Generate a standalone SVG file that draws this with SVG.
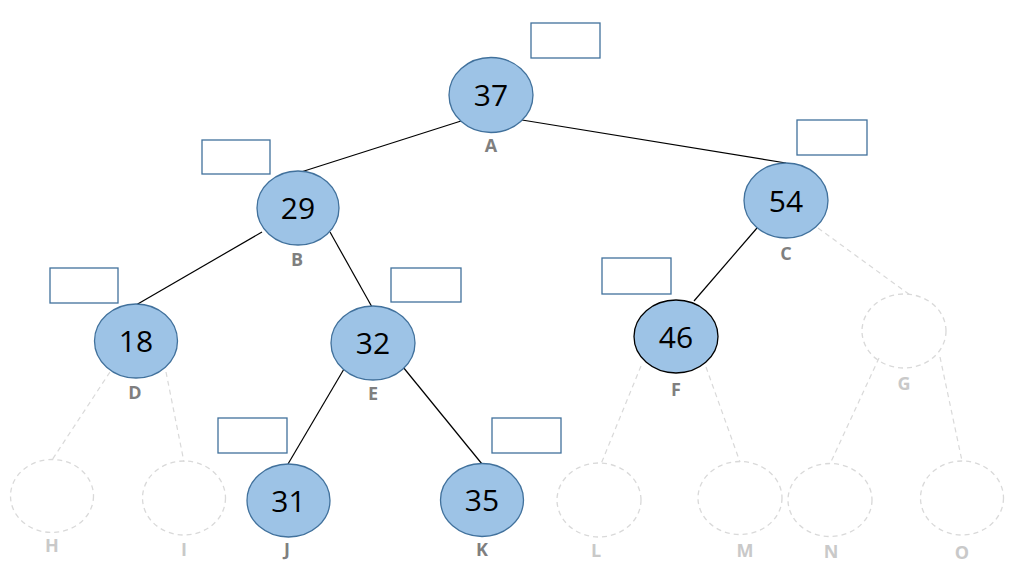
<svg xmlns="http://www.w3.org/2000/svg" width="1024" height="586" viewBox="0 0 1024 586">
<style>
.n{fill:#9DC3E6;stroke:#41719C;stroke-width:1.3}
.nb{fill:#9DC3E6;stroke:#000;stroke-width:1.3}
.g{fill:none;stroke:#d9d9d9;stroke-width:1.3;stroke-dasharray:5 4}
.v{font-family:"Open Sans","Liberation Sans",sans-serif;font-size:30px;fill:#000;text-anchor:middle}
.l{font-family:"Open Sans","Liberation Sans",sans-serif;font-size:18px;font-weight:bold;fill:#7f7f7f;text-anchor:middle}
.lf{font-family:"Open Sans","Liberation Sans",sans-serif;font-size:18px;font-weight:bold;fill:#c9c9c9;text-anchor:middle}
.b{fill:#fff;stroke:#41719C;stroke-width:1.3}
.e{stroke:#000;stroke-width:1.2;fill:none}
.ed{stroke:#d9d9d9;stroke-width:1.2;fill:none;stroke-dasharray:5 4}
</style>
<rect width="1024" height="586" fill="#fff"/>
<g id="connectors">
<line class="e" x1="461" y1="121" x2="301" y2="172"/>
<line class="e" x1="522" y1="120" x2="786" y2="163"/>
<line class="e" x1="262" y1="232" x2="136" y2="305"/>
<line class="e" x1="330" y1="232" x2="372" y2="307"/>
<line class="e" x1="344" y1="369" x2="288" y2="464"/>
<line class="e" x1="403" y1="367" x2="482" y2="464"/>
<line class="e" x1="757" y1="228" x2="694" y2="301"/>
<line class="ed" x1="818" y1="228" x2="910" y2="295"/>
<line class="ed" x1="110" y1="372" x2="52" y2="460"/>
<line class="ed" x1="166" y1="372" x2="184" y2="462"/>
<line class="ed" x1="641" y1="366" x2="601" y2="464"/>
<line class="ed" x1="706" y1="367" x2="740" y2="462"/>
<line class="ed" x1="879" y1="358" x2="830" y2="464"/>
<line class="ed" x1="940" y1="357" x2="962" y2="461"/>
</g>
<g id="A"><rect class="b" x="531" y="23" width="69" height="35"/><ellipse class="n" cx="491" cy="95" rx="42" ry="37.5"/><text class="v" x="491" y="106">37</text><text class="l" x="491" y="152">A</text></g>
<g id="B"><rect class="b" x="202" y="140" width="68" height="34"/><ellipse class="n" cx="298" cy="208" rx="41" ry="37"/><text class="v" x="298" y="219">29</text><text class="l" x="297" y="266">B</text></g>
<g id="C"><rect class="b" x="797" y="120" width="70" height="35"/><ellipse class="n" cx="786" cy="200.5" rx="42" ry="37.5"/><text class="v" x="786" y="212">54</text><text class="l" x="786" y="260">C</text></g>
<g id="D"><rect class="b" x="50" y="268" width="68" height="35"/><ellipse class="n" cx="136" cy="341" rx="41.5" ry="37"/><text class="v" x="136" y="352">18</text><text class="l" x="135" y="399">D</text></g>
<g id="E"><rect class="b" x="391" y="268" width="70" height="34"/><ellipse class="n" cx="373" cy="343" rx="42" ry="37"/><text class="v" x="373" y="354">32</text><text class="l" x="373" y="400">E</text></g>
<g id="F"><rect class="b" x="602" y="258" width="69" height="36"/><ellipse class="nb" cx="676" cy="336.5" rx="42" ry="36.5"/><text class="v" x="676" y="348">46</text><text class="l" x="676" y="396">F</text></g>
<g id="G"><ellipse class="g" cx="904" cy="331" rx="42" ry="37"/><text class="lf" x="904" y="390">G</text></g>
<g id="H"><ellipse class="g" cx="52" cy="496" rx="41.5" ry="36.5"/><text class="lf" x="52" y="552">H</text></g>
<g id="I"><ellipse class="g" cx="184" cy="498" rx="41.5" ry="37"/><text class="lf" x="184" y="556">I</text></g>
<g id="J"><rect class="b" x="218" y="418" width="69" height="35"/><ellipse class="n" cx="288.5" cy="500.5" rx="41.5" ry="36.5"/><text class="v" x="288.5" y="512">31</text><text class="l" x="287" y="556">J</text></g>
<g id="K"><rect class="b" x="492" y="418" width="69" height="35"/><ellipse class="n" cx="482" cy="500" rx="41.5" ry="36.5"/><text class="v" x="482" y="511">35</text><text class="l" x="482" y="556">K</text></g>
<g id="L"><ellipse class="g" cx="599" cy="500" rx="42" ry="37"/><text class="lf" x="596" y="557">L</text></g>
<g id="M"><ellipse class="g" cx="740" cy="498" rx="42" ry="36.5"/><text class="lf" x="745" y="557">M</text></g>
<g id="N"><ellipse class="g" cx="830" cy="500" rx="42" ry="36.5"/><text class="lf" x="831" y="558">N</text></g>
<g id="O"><ellipse class="g" cx="962" cy="498" rx="41.5" ry="37"/><text class="lf" x="962" y="559">O</text></g>
</svg>
